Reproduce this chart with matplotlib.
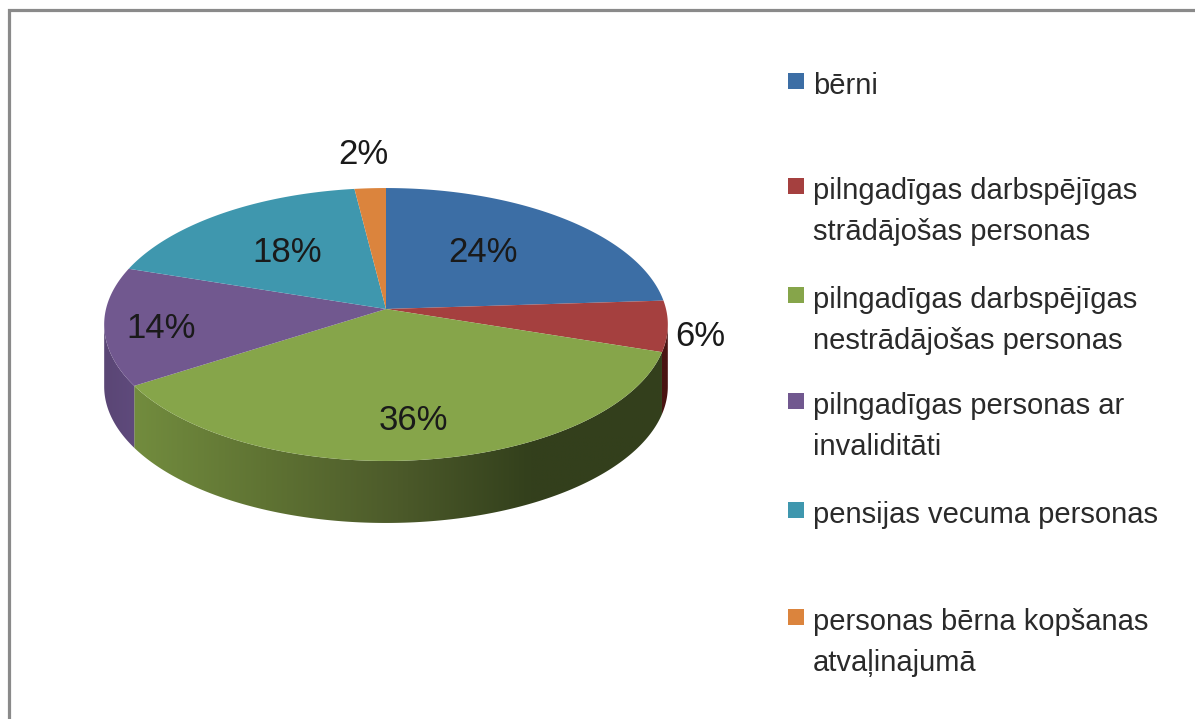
import numpy as np
import matplotlib
matplotlib.use('Agg')
import matplotlib.pyplot as plt
from matplotlib.patches import Rectangle, PathPatch
from matplotlib.path import Path
from matplotlib.colors import LinearSegmentedColormap

W, H = 1195, 719

# dados
categorias = ['bērni', 'pilngadīgas darbspējīgas\nstrādājošas personas',
              'pilngadīgas darbspējīgas\nnestrādājošas personas',
              'pilngadīgas personas ar\ninvaliditāti',
              'pensijas vecuma personas',
              'personas bērna kopšanas\natvaļinajumā']
valores = [24, 6, 36, 14, 18, 2]
cores = ['#3c6ea5', '#a5403f', '#86a54a', '#71588f', '#3f97ae', '#db843d']
rotulos = ['24%', '6%', '36%', '14%', '18%', '2%']
rotulo_x = [483, 700, 413, 161, 287, 363]
rotulo_y = [253, 336, 420, 329, 253, 155]
legenda_y = [82, 187, 296, 402, 511, 618]

fig = plt.figure(figsize=(W / 100, H / 100), dpi=100)
ax = fig.add_axes([0, 0, 1, 1])
ax.axis('off')

# moldura
ax.plot([9.5, 9.5, W], [H, 9.5, 9.5], color='#8a8a8a', lw=2.3, solid_capstyle='butt',
        solid_joinstyle='miter')

# projecao em perspectiva do circulo
cx, cy, prof = 386, 309, 62
k, a, b = 0.1136, 134.7, 280


def proj(ang):
    d = 1 + k * np.cos(ang)
    return cx + b * np.sin(ang) / d, cy - a * np.cos(ang) / d


ang = np.cumsum([0] + valores) / 100 * 2 * np.pi
borda_dir = np.arccos(-k)
borda_esq = 2 * np.pi - borda_dir

mapa_verde = LinearSegmentedColormap.from_list(
    'v', ['#728c3e', '#5f7333', '#4c5a2a', '#33401c', '#333f1c'])
mapa_roxo = LinearSegmentedColormap.from_list('r', ['#5a4675', '#5f4a7c'])
mapa_verm = LinearSegmentedColormap.from_list('m', ['#4a1412', '#4a1412'])


def lateral(a0, a1, mapa):
    t = np.linspace(a0, a1, 160)
    x, y = proj(t)
    vx = np.r_[x, x[::-1], x[0]]
    vy = np.r_[y, y[::-1] + prof, y[0]]
    cod = [Path.MOVETO] + [Path.LINETO] * (len(vx) - 2) + [Path.CLOSEPOLY]
    clip = PathPatch(Path(np.c_[vx, vy], cod), fc='none', ec='none')
    ax.add_patch(clip)
    im = ax.imshow(np.linspace(0, 1, 256).reshape(1, -1), cmap=mapa, aspect='auto',
                   extent=[x.min(), x.max(), y.max() + prof, y.min()], zorder=1)
    im.set_clip_path(clip)


lateral(borda_dir, ang[2], mapa_verm)
lateral(ang[2], ang[3], mapa_verde)
lateral(ang[3], borda_esq, mapa_roxo)
ax.set_xlim(0, W)
ax.set_ylim(H, 0)

# topo
for i in range(len(valores)):
    t = np.linspace(ang[i], ang[i + 1], 100)
    x, y = proj(t)
    ax.fill(np.r_[cx, x], np.r_[cy, y], color=cores[i], lw=0, zorder=2)

# rotulos e legenda
for txt, x, y in zip(rotulos, rotulo_x, rotulo_y):
    ax.text(x, y, txt, ha='center', va='center', fontsize=25, family='Liberation Sans',
            color='#1a1a1a', zorder=3)

for i, (cat, y) in enumerate(zip(categorias, legenda_y)):
    ax.add_patch(Rectangle((788, y - 9), 16, 16, fc=cores[i], ec='none'))
    ax.text(813, y - 10, cat, ha='left', va='top', fontsize=21, family='Liberation Sans',
            color='#2a2a2a', linespacing=1.6)

fig.savefig('out.png', dpi=100)
